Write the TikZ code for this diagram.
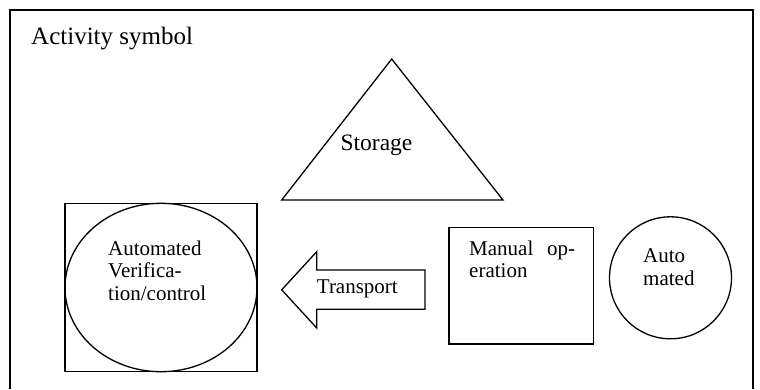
\documentclass[tikz,border=0pt]{standalone}
\usepackage{fontspec}
\setmainfont{Liberation Serif}
\begin{document}
\begin{tikzpicture}[x=1pt,y=-1pt,
  frameline/.style={line width=2pt},
  shapeline/.style={line width=1.3pt, line join=miter},
  lbl/.style={inner sep=0pt, font=\fontsize{21}{22.5}\selectfont, align=left},
  ttl/.style={inner sep=0pt, font=\fontsize{25}{28}\selectfont}]
\useasboundingbox (0,0) rectangle (760,389);
% outer frame (open at bottom)
\draw[frameline] (9.5,389) -- (9.5,10) -- (753,10) -- (753,389);
\node[ttl, anchor=base west] (title) at (31,44) {Activity symbol};
% storage triangle
\draw[shapeline] (391.7,59) -- (503,200) -- (281.7,200) -- cycle;
\node[lbl, anchor=base, font=\fontsize{23.5}{26}\selectfont] (storage) at (376.5,150) {Storage};
% automated verification
\draw[shapeline] (65,203.3) rectangle (257,371.7);
\draw[shapeline] (161,287.5) ellipse [x radius=96, y radius=84.2];
\node[lbl, anchor=base west] (verif) at (108,300) {Automated\\Verifica-\\tion/control};
% transport arrow
\draw[shapeline] (281.7,289.8) -- (316.7,251.7) -- (316.7,270) -- (425,270) -- (425,309.3) -- (316.7,309.3) -- (316.7,328) -- cycle;
\node[lbl, anchor=base west] (transport) at (316.7,293) {Transport};
% manual operation
\draw[shapeline] (449,227.3) rectangle (593.3,344);
\node[lbl, anchor=base west] (manual) at (469,277.5) {\hbox to 106pt{Manual\hfill op-}\\eration};
% automated
\draw[shapeline] (670.5,277.8) circle [radius=61];
\node[lbl, anchor=base west] (auto) at (643,285.2) {Auto\\mated};
\end{tikzpicture}
\end{document}
